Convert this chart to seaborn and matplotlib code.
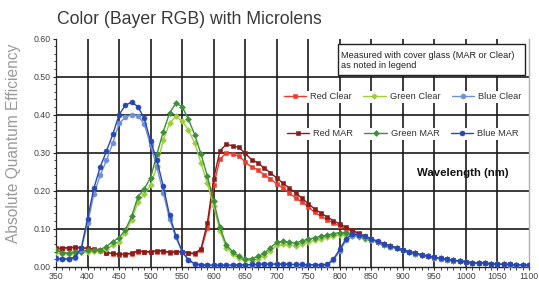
import numpy as np
import pandas as pd
import matplotlib
matplotlib.use("Agg")
import matplotlib.pyplot as plt
from matplotlib.patches import Rectangle
import seaborn as sns

wavelength = list(range(350, 1101, 10))

red_mar = [0.048, 0.050, 0.050, 0.052, 0.050, 0.049, 0.046, 0.044, 0.037, 0.035,
           0.033, 0.033, 0.036, 0.042, 0.040, 0.040, 0.042, 0.042, 0.038, 0.040,
           0.040, 0.037, 0.035, 0.047, 0.115, 0.232, 0.305, 0.322, 0.318, 0.314,
           0.298, 0.282, 0.273, 0.260, 0.247, 0.233, 0.220, 0.207, 0.194, 0.180,
           0.166, 0.152, 0.141, 0.131, 0.121, 0.112, 0.104, 0.096, 0.088, 0.080,
           0.073, 0.066, 0.060, 0.055, 0.050, 0.044, 0.040, 0.035, 0.031, 0.028,
           0.025, 0.022, 0.019, 0.017, 0.015, 0.013, 0.011, 0.010, 0.009, 0.008,
           0.007, 0.006, 0.006, 0.005, 0.005, 0.005]
red_clear = [0.045, 0.047, 0.048, 0.050, 0.048, 0.047, 0.044, 0.042, 0.036, 0.034,
             0.032, 0.032, 0.034, 0.040, 0.038, 0.038, 0.040, 0.040, 0.036, 0.038,
             0.038, 0.035, 0.033, 0.043, 0.102, 0.215, 0.283, 0.300, 0.296, 0.291,
             0.276, 0.262, 0.255, 0.242, 0.231, 0.218, 0.207, 0.194, 0.181, 0.170,
             0.158, 0.143, 0.133, 0.124, 0.115, 0.107, 0.100, 0.093, 0.085, 0.078,
             0.071, 0.064, 0.058, 0.053, 0.048, 0.043, 0.039, 0.034, 0.030, 0.027,
             0.024, 0.021, 0.018, 0.016, 0.014, 0.012, 0.011, 0.010, 0.009, 0.008,
             0.007, 0.006, 0.005, 0.005, 0.005, 0.005]
green_mar = [0.044, 0.037, 0.036, 0.040, 0.040, 0.043, 0.045, 0.045, 0.053, 0.066,
             0.076, 0.097, 0.133, 0.184, 0.205, 0.234, 0.296, 0.355, 0.404, 0.430,
             0.421, 0.388, 0.347, 0.296, 0.238, 0.173, 0.104, 0.057, 0.040, 0.027,
             0.020, 0.021, 0.027, 0.035, 0.050, 0.064, 0.067, 0.064, 0.062, 0.068,
             0.072, 0.076, 0.080, 0.083, 0.087, 0.090, 0.090, 0.087, 0.081, 0.076,
             0.071, 0.066, 0.060, 0.055, 0.050, 0.044, 0.040, 0.035, 0.031, 0.028,
             0.025, 0.022, 0.019, 0.017, 0.015, 0.013, 0.011, 0.010, 0.009, 0.008,
             0.007, 0.006, 0.006, 0.005, 0.005, 0.005]
green_clear = [0.040, 0.034, 0.033, 0.035, 0.038, 0.040, 0.041, 0.042, 0.046, 0.056,
               0.066, 0.090, 0.124, 0.170, 0.190, 0.215, 0.264, 0.333, 0.377, 0.396,
               0.383, 0.360, 0.325, 0.272, 0.219, 0.160, 0.095, 0.050, 0.034, 0.022,
               0.017, 0.016, 0.021, 0.029, 0.042, 0.056, 0.059, 0.057, 0.055, 0.060,
               0.065, 0.069, 0.073, 0.077, 0.081, 0.084, 0.084, 0.082, 0.078, 0.074,
               0.069, 0.064, 0.058, 0.053, 0.048, 0.043, 0.039, 0.034, 0.030, 0.027,
               0.024, 0.021, 0.018, 0.016, 0.014, 0.012, 0.011, 0.010, 0.009, 0.008,
               0.007, 0.006, 0.005, 0.005, 0.005, 0.005]
blue_mar = [0.022, 0.021, 0.021, 0.025, 0.049, 0.126, 0.206, 0.262, 0.304, 0.348,
            0.400, 0.425, 0.433, 0.421, 0.390, 0.330, 0.280, 0.212, 0.136, 0.082,
            0.040, 0.018, 0.008, 0.005, 0.004, 0.004, 0.004, 0.004, 0.004, 0.005,
            0.005, 0.006, 0.006, 0.007, 0.007, 0.007, 0.007, 0.006, 0.006, 0.006,
            0.005, 0.005, 0.005, 0.006, 0.020, 0.046, 0.074, 0.085, 0.084, 0.080,
            0.073, 0.067, 0.060, 0.055, 0.050, 0.044, 0.040, 0.035, 0.031, 0.028,
            0.025, 0.022, 0.019, 0.017, 0.015, 0.013, 0.011, 0.010, 0.009, 0.008,
            0.007, 0.006, 0.006, 0.005, 0.005, 0.005]
blue_clear = [0.020, 0.019, 0.019, 0.023, 0.045, 0.114, 0.190, 0.240, 0.280, 0.325,
              0.377, 0.393, 0.400, 0.397, 0.375, 0.320, 0.262, 0.195, 0.126, 0.077,
              0.040, 0.017, 0.007, 0.004, 0.004, 0.004, 0.004, 0.004, 0.004, 0.005,
              0.005, 0.005, 0.006, 0.006, 0.006, 0.006, 0.006, 0.006, 0.005, 0.005,
              0.005, 0.005, 0.005, 0.005, 0.017, 0.042, 0.069, 0.080, 0.080, 0.077,
              0.071, 0.064, 0.058, 0.053, 0.048, 0.043, 0.039, 0.034, 0.030, 0.027,
              0.024, 0.021, 0.018, 0.016, 0.014, 0.012, 0.011, 0.010, 0.009, 0.008,
              0.007, 0.006, 0.005, 0.005, 0.005, 0.005]

series = {
    "Red Clear": red_clear,
    "Red MAR": red_mar,
    "Green Clear": green_clear,
    "Green MAR": green_mar,
    "Blue Clear": blue_clear,
    "Blue MAR": blue_mar,
}
colors = {
    "Red Clear": "#EE3B2B",
    "Red MAR": "#8A1B1B",
    "Green Clear": "#9BCF3A",
    "Green MAR": "#3F8E3A",
    "Blue Clear": "#6E90D8",
    "Blue MAR": "#2847B4",
}
markers = {
    "Red Clear": "s", "Red MAR": "s",
    "Green Clear": "D", "Green MAR": "D",
    "Blue Clear": "o", "Blue MAR": "o",
}
msize = {"s": 3.2, "D": 3.0, "o": 3.6}

df = pd.DataFrame({
    "wavelength": wavelength * len(series),
    "qe": sum(series.values(), []),
    "series": sum([[k] * len(wavelength) for k in series], []),
})

sns.set_theme(style="white")
plt.rcParams["font.family"] = ["Liberation Sans", "DejaVu Sans"]

fig = plt.figure(figsize=(5.39, 2.81), dpi=100)
W, H = 539, 281
ax_l, ax_r, ax_t, ax_b = 56, 529, 38.7, 266.7
ax = fig.add_axes([ax_l / W, (H - ax_b) / H, (ax_r - ax_l) / W, (ax_b - ax_t) / H])

handles = {}
for i, name in enumerate(series):
    sub = df[df["series"] == name]
    sns.lineplot(data=sub, x="wavelength", y="qe", ax=ax, color=colors[name],
                 marker=markers[name], markersize=msize[markers[name]],
                 markeredgecolor=colors[name], markeredgewidth=0.4,
                 linewidth=1.0, label=name, zorder=3 + i, legend=False)
    handles[name] = ax.lines[-1]

ax.set_xlim(350, 1100)
ax.set_ylim(0, 0.6)
ax.set_xticks(range(350, 1101, 50))
ax.set_xticks(range(350, 1101, 10), minor=True)
ax.set_yticks([0.0, 0.1, 0.2, 0.3, 0.4, 0.5, 0.6])
ax.set_yticks(np.arange(0, 0.601, 0.02), minor=True)
ax.set_yticklabels([f"{v:.2f}" for v in [0.0, 0.1, 0.2, 0.3, 0.4, 0.5, 0.6]])
ax.tick_params(axis="both", which="major", labelsize=6.3, labelcolor="#444444",
               length=2.5, width=0.8, color="#222222", direction="out", pad=1.5,
               bottom=True, left=True)
ax.tick_params(axis="both", which="minor", length=1.8, width=0.6, color="#222222",
               direction="out", bottom=True, left=True)

for x in range(400, 1100, 50):
    ax.axvline(x, color="#1a1a1a", linewidth=1.2, zorder=1)
for y in [0.1, 0.2, 0.3, 0.4, 0.5]:
    ax.axhline(y, color="#1a1a1a", linewidth=1.2, zorder=1)

ax.spines["top"].set_visible(False)
ax.spines["right"].set_color("#b0b0b0")
ax.spines["right"].set_linewidth(1.0)
ax.spines["left"].set_color("#222222")
ax.spines["left"].set_linewidth(0.9)
ax.spines["bottom"].set_color("#222222")
ax.spines["bottom"].set_linewidth(1.0)

ax.set_ylabel("")
ax.set_xlabel("Wavelength (nm)", fontsize=8.2, fontweight="bold", color="#111111",
              bbox=dict(facecolor="white", edgecolor="none", pad=1.5))
ax.xaxis.set_label_coords((463 - ax_l) / (ax_r - ax_l), (ax_b - 173) / (ax_b - ax_t))
ax.xaxis.label.set_va("center")
ax.xaxis.label.set_ha("center")
ax.xaxis.label.set_zorder(20)

def ax_x(px):
    return (px - ax_l) / (ax_r - ax_l)

def ax_y(py):
    return (ax_b - py) / (ax_b - ax_t)

box = Rectangle((ax_x(338), ax_y(75)), ax_x(525) - ax_x(338), ax_y(44) - ax_y(75),
                transform=ax.transAxes, facecolor="white", edgecolor="#222222",
                linewidth=1.0, zorder=15)
ax.add_patch(box)
ax.text(ax_x(341), ax_y(56), "Measured with cover glass (MAR or Clear)",
        transform=ax.transAxes, fontsize=6.6, color="#222222", va="center",
        ha="left", zorder=16)
ax.text(ax_x(341), ax_y(65.5), "as noted in legend",
        transform=ax.transAxes, fontsize=6.6, color="#222222", va="center",
        ha="left", zorder=16)

row1 = ["Red Clear", "Green Clear", "Blue Clear"]
row2 = ["Red MAR", "Green MAR", "Blue MAR"]
legkw = dict(ncol=3, loc="center left", fontsize=6.7, frameon=True,
             facecolor="white", edgecolor="none", framealpha=1, fancybox=False,
             borderpad=0.2, borderaxespad=0, handlelength=2.4,
             handletextpad=0.45, columnspacing=1.2, labelcolor="#333333")
leg1 = ax.legend([handles[n] for n in row1], row1,
                 bbox_to_anchor=(ax_x(282), ax_y(97)), **legkw)
leg1.set_zorder(18)
ax.add_artist(leg1)
leg2 = ax.legend([handles[n] for n in row2], row2,
                 bbox_to_anchor=(ax_x(285), ax_y(134)), **legkw)
leg2.set_zorder(18)

fig.text(57 / W, 1 - 20 / H, "Color (Bayer RGB) with Microlens", fontsize=12.7,
         color="#3a3a3a", ha="left", va="center")
fig.text(14 / W, 1 - 143 / H, "Absolute Quantum Efficiency", fontsize=11.2,
         color="#9a9a9a", rotation=90, ha="center", va="center")

fig.savefig("out.png", dpi=100)
